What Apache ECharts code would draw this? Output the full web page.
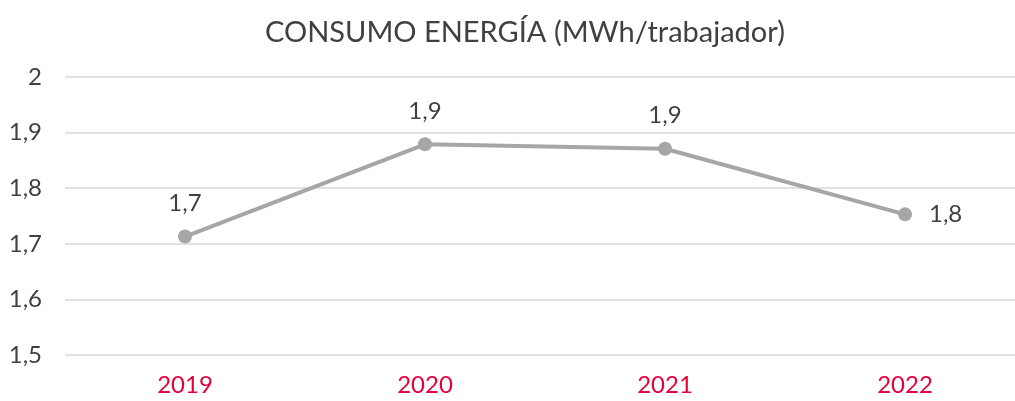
<!DOCTYPE html>
<html>
  <head>
    <meta charset="utf-8" />
    <script src="https://cdn.jsdelivr.net/npm/echarts@6/dist/echarts.min.js"></script>
    <style>
      html, body { margin: 0; padding: 0; background: #fff; }
    </style>
  </head>
  <body>
    <div id="main" style="width: 1015px;height:401px;"></div>
    <script type="text/javascript">
      var myChart = echarts.init(document.getElementById('main'));

      const years = ['2019', '2020', '2021', '2022'];
      const consumo = [1.713, 1.879, 1.871, 1.753];
      const titleText = 'CONSUMO ENERGÍA (MWh/trabajador)';

      // decimal comma, like the original
      function comma(v) {
        return String(+(+v).toFixed(1)).replace('.', ',');
      }

      const seriesData = consumo.map(function (v, i) {
        if (i === consumo.length - 1) {
          return { value: v, label: { position: 'right', distance: 17 } };
        }
        return v;
      });

      const option = {
        animation: false,
        backgroundColor: '#fff',
        textStyle: { fontFamily: 'Lato' },
        title: {
          text: titleText,
          left: 260,
          top: 13,
          textStyle: {
            fontFamily: 'Lato',
            fontSize: 29,
            fontWeight: 'normal',
            color: '#404040'
          }
        },
        grid: {
          left: 65,
          top: 77,
          width: 960,
          height: 278,
          outerBoundsMode: 'none'
        },
        xAxis: {
          type: 'category',
          data: years,
          boundaryGap: true,
          axisLine: { show: false },
          axisTick: { show: false },
          axisLabel: {
            margin: 18,
            fontSize: 24,
            fontFamily: 'Lato',
            color: '#e4003a'
          }
        },
        yAxis: {
          type: 'value',
          min: 1.5,
          max: 2,
          interval: 0.1,
          axisLine: { show: false },
          axisTick: { show: false },
          splitLine: { lineStyle: { color: '#d9d9d9', width: 1.5 } },
          axisLabel: {
            margin: 23,
            fontSize: 24,
            fontFamily: 'Lato',
            color: '#404040',
            formatter: comma
          }
        },
        series: [
          {
            type: 'line',
            data: seriesData,
            symbol: 'circle',
            symbolSize: 14,
            lineStyle: { color: '#a6a6a6', width: 4 },
            itemStyle: { color: '#a6a6a6' },
            label: {
              show: true,
              position: 'top',
              distance: 14,
              fontSize: 24,
              fontFamily: 'Lato',
              color: '#404040',
              formatter: function (p) { return comma(p.value); }
            }
          }
        ]
      };

      myChart.setOption(option);
    </script>
  </body>
</html>
